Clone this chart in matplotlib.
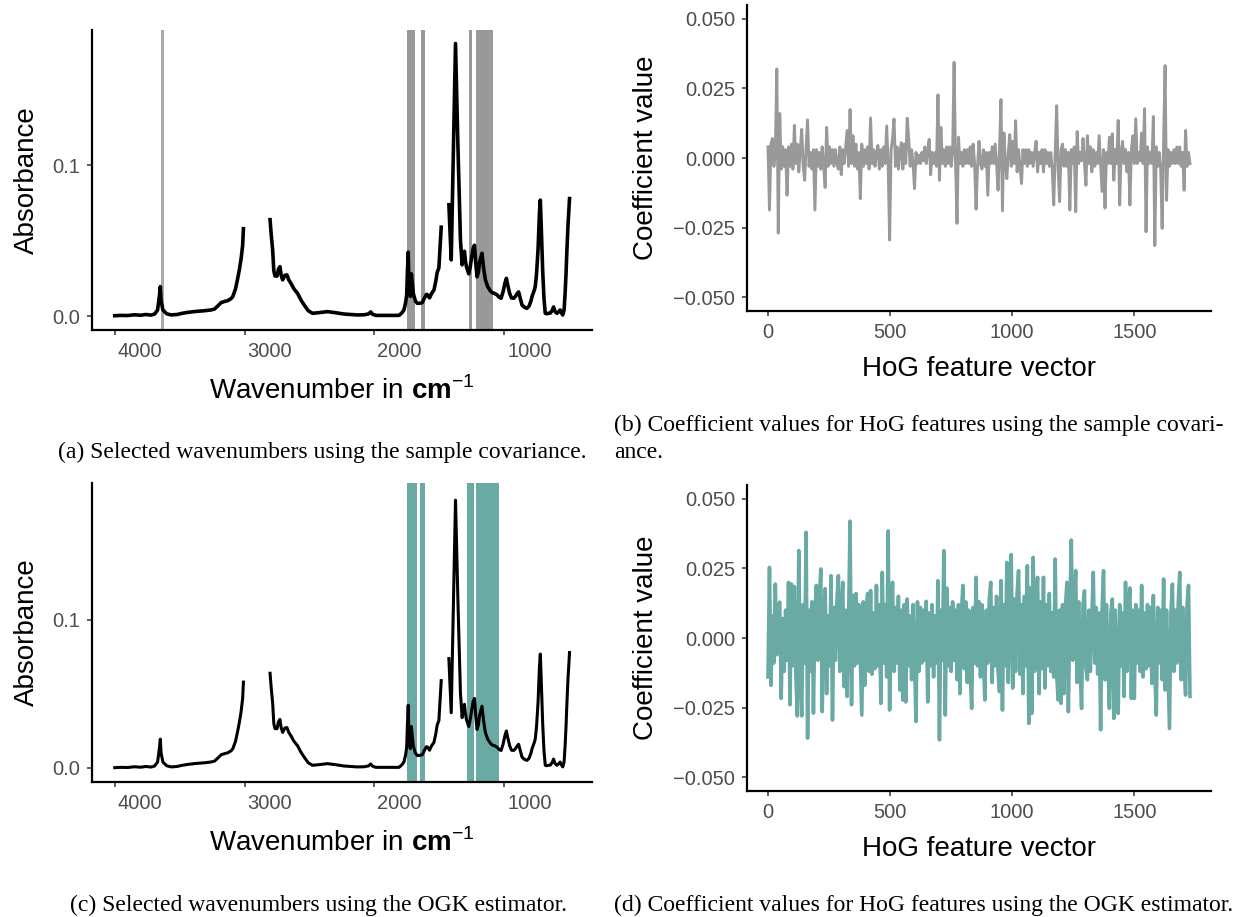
import numpy as np
import matplotlib
matplotlib.use('Agg')
import matplotlib.pyplot as plt
import matplotlib.transforms as mtransforms

plt.rcParams['font.family'] = ['Liberation Sans', 'DejaVu Sans']
plt.rcParams['mathtext.fontset'] = 'custom'
plt.rcParams['mathtext.rm'] = 'Liberation Sans'
plt.rcParams['mathtext.bf'] = 'Liberation Sans:bold'

# ---- IR spectrum (same spectrum in panels a and c), NaN = gap in the data
wavenumber = [4000, 3950, 3900, 3850, 3800, 3760, 3720, 3693, 3670, 3655, 3649, 3643, 3629,
              3600, 3565, 3520, 3480, 3437, 3380, 3309, 3260, 3232, 3200, 3181, 3150, 3130,
              3105, 3091, 3070, 3053, 3040, 3027, 3015, 3009, 2900,
              2804, 2795, 2784, 2775, 2766, 2750, 2740, 2728, 2718, 2707, 2690, 2674, 2660,
              2643, 2620, 2592, 2565, 2541, 2510, 2477, 2430, 2362, 2300, 2234, 2180, 2131,
              2080, 2045, 2029, 2015, 1990, 1900, 1811, 1790, 1773, 1760, 1752, 1746, 1740,
              1734, 1724, 1716, 1701, 1685, 1670, 1650, 1632, 1615, 1599, 1590, 1576, 1560,
              1542, 1528, 1517, 1504, 1486, 1450,
              1427, 1409, 1376, 1358, 1338, 1325, 1315, 1307, 1300, 1292, 1274, 1262, 1250,
              1240, 1230, 1220, 1210, 1200, 1190, 1172, 1160, 1146, 1128, 1110, 1094, 1075,
              1056, 1040, 1025, 1010, 995, 984, 975, 959, 945, 928, 915, 900, 890, 878, 864,
              845, 826, 810, 795, 787, 770, 762, 752, 740, 730, 723, 716, 705, 695, 685, 672,
              659, 645, 630, 621, 610, 595, 580, 570, 560, 550, 540, 532, 525, 519, 510, 498]
absorbance = [0.0002, 0.0004, 0.0003, 0.0008, 0.0005, 0.0010, 0.0006, 0.0013, 0.004, 0.014,
              0.0195, 0.010, 0.004, 0.0015, 0.0007, 0.0010, 0.0018, 0.0024, 0.0030, 0.0035,
              0.0040, 0.0046, 0.0072, 0.0089, 0.0098, 0.0102, 0.0115, 0.0129, 0.018, 0.025,
              0.031, 0.038, 0.047, 0.058, np.nan,
              0.064, 0.054, 0.044, 0.030, 0.0266, 0.0265, 0.031, 0.0328, 0.027, 0.024, 0.027,
              0.0273, 0.024, 0.0217, 0.018, 0.015, 0.0105, 0.0073, 0.0035, 0.0018, 0.0022,
              0.0029, 0.0022, 0.0013, 0.0010, 0.0007, 0.0008, 0.0014, 0.0027, 0.0012, 0.0004,
              0.0004, 0.0004, 0.0020, 0.004, 0.009, 0.014, 0.030, 0.0424, 0.0195, 0.013, 0.028,
              0.015, 0.010, 0.0084, 0.0085, 0.0089, 0.012, 0.0144, 0.014, 0.012, 0.015, 0.0173,
              0.023, 0.029, 0.032, 0.059, np.nan,
              0.0739, 0.0373, 0.181, 0.115, 0.0506, 0.034, 0.041, 0.043, 0.037, 0.0328, 0.028,
              0.033, 0.040, 0.045, 0.047, 0.035, 0.026, 0.029, 0.036, 0.0417, 0.032, 0.024,
              0.0195, 0.017, 0.0155, 0.015, 0.014, 0.0125, 0.0118, 0.016, 0.022, 0.025, 0.021,
              0.015, 0.012, 0.0118, 0.013, 0.015, 0.016, 0.012, 0.0073, 0.0058, 0.0051, 0.0065,
              0.010, 0.0129, 0.017, 0.0195, 0.028, 0.045, 0.068, 0.077, 0.060, 0.0306, 0.012,
              0.0018, 0.0015, 0.0018, 0.002, 0.004, 0.006, 0.003, 0.0018, 0.003, 0.004, 0.002,
              0.0007, 0.004, 0.015, 0.028, 0.042, 0.060, 0.078]

# selected wavenumber ranges (start, end) in cm^-1
selected_cov = [(3641, 3619), (1752, 1688), (1645, 1612), (1274, 1246), (1215, 1087)]
selected_ogk = [(1752, 1676), (1653, 1612), (1284, 1235), (1215, 1043)]

# ---- HoG coefficients, read every 6th feature
hog_cov = [0.004, -0.0187, 0.005, 0.007, -0.003, 0.002, 0.032, -0.027, 0.016, -0.004,
           0.004, -0.003, 0.003, -0.0134, 0.004, -0.003, 0.005, -0.004, 0.0117, -0.002,
           0.005, -0.005, 0.003, 0.0103, -0.003, -0.008, 0.004, 0.0137, -0.003, 0.002,
           -0.004, 0.003, -0.0187, 0.003, -0.003, 0.002, -0.004, 0.004, -0.003, -0.0106,
           0.011, -0.003, 0.004, -0.002, 0.003, -0.003, 0.003, -0.002, -0.004, 0.004,
           -0.006, 0.003, -0.002, 0.004, 0.0099, -0.003, 0.0174, -0.002, 0.008, -0.003,
           0.005, -0.004, 0.002, -0.0146, 0.005, -0.003, 0.003, -0.002, 0.004, -0.004,
           0.0144, -0.002, 0.003, -0.003, 0.002, 0.0045, -0.004, 0.003, -0.003, 0.004,
           -0.002, 0.0115, -0.002, -0.0295, 0.003, 0.007, 0.014, -0.003, 0.004, -0.004,
           0.002, 0.0055, -0.004, 0.005, -0.002, 0.0143, 0.007, -0.003, 0.003, -0.002,
           -0.011, 0.002, -0.002, 0.001, -0.002, 0.002, -0.001, 0.004, -0.002, 0.003,
           0.0067, -0.006, 0.002, -0.002, 0.002, -0.003, 0.0227, -0.008, 0.011, -0.002,
           0.003, -0.003, 0.004, -0.002, 0.004, -0.003, 0.002, 0.0344, -0.002, -0.0235,
           0.0075, -0.002, 0.002, -0.003, 0.003, -0.002, 0.003, -0.002, 0.004, -0.003,
           0.005, -0.002, -0.0184, -0.003, 0.006, -0.002, -0.004, 0.003, -0.003, 0.002,
           -0.0134, 0.002, -0.002, 0.004, -0.002, 0.005, -0.002, -0.0116, 0.003, 0.021,
           -0.019, 0.009, -0.002, -0.0074, 0.002, 0.0084, -0.003, 0.006, -0.002, 0.0134,
           -0.005, 0.003, -0.003, -0.0092, 0.003, -0.002, 0.003, -0.003, 0.003, -0.002,
           0.002, -0.003, 0.002, 0.006, -0.005, 0.002, -0.002, 0.003, -0.005, 0.003,
           -0.002, 0.002, -0.003, 0.002, -0.004, -0.0169, 0.002, 0.0188, -0.004, -0.0157,
           0.003, 0.005, -0.003, 0.003, -0.003, 0.002, -0.0187, 0.003, -0.002, 0.004,
           -0.0193, 0.0095, -0.002, 0.002, -0.001, 0.007, -0.002, -0.0098, 0.008, -0.002,
           0.004, -0.005, 0.003, -0.003, 0.002, -0.002, 0.008, -0.002, -0.012, 0.003,
           -0.018, 0.002, -0.002, 0.0075, -0.002, 0.0087, -0.008, 0.003, -0.002, 0.0135,
           -0.0169, 0.002, 0.006, -0.002, 0.003, -0.005, 0.002, -0.0169, 0.003, 0.008,
           -0.002, 0.0141, -0.002, 0.002, -0.001, 0.009, -0.002, 0.0177, -0.0265, 0.004,
           -0.002, 0.002, -0.002, 0.0149, -0.0315, 0.004, -0.003, 0.002, -0.004, -0.0253,
           0.006, 0.0332, -0.0152, 0.003, -0.003, 0.002, -0.002, 0.003, -0.002, 0.004,
           -0.002, 0.004, -0.003, 0.002, -0.0116, 0.0099, -0.003, 0.002, -0.002]

hog_ogk = [-0.014, 0.0254, -0.017, 0.008, -0.009, 0.0194, -0.006, 0.011, 0.0129, -0.0217,
           0.007, -0.012, 0.010, -0.008, 0.020, -0.024, 0.0194, -0.010, 0.0185, -0.013,
           -0.028, 0.0314, -0.011, -0.028, 0.012, -0.009, 0.038, -0.036, 0.010, -0.012,
           0.013, -0.027, 0.009, 0.0189, -0.008, 0.012, 0.0248, -0.0265, 0.006, 0.0177,
           -0.020, 0.008, -0.010, 0.0224, -0.0295, 0.011, -0.008, 0.013, 0.0224, -0.012,
           0.009, 0.020, -0.0175, 0.010, -0.021, 0.007, 0.042, -0.024, 0.0153, -0.010,
           0.016, -0.009, 0.012, -0.008, -0.0277, 0.013, -0.017, 0.010, 0.016, -0.012,
           0.017, -0.013, 0.009, -0.011, 0.0189, -0.010, 0.012, -0.0235, 0.0236, -0.009,
           0.012, -0.014, 0.0385, -0.0259, 0.008, 0.020, -0.012, 0.011, -0.009, 0.015,
           -0.0187, 0.010, -0.0223, 0.012, -0.023, 0.014, -0.010, 0.008, -0.015, 0.012,
           -0.008, -0.030, 0.013, -0.012, 0.011, -0.009, 0.010, -0.008, 0.0132, -0.023,
           0.009, -0.010, 0.012, -0.014, 0.008, -0.009, 0.0206, -0.0366, 0.010, -0.008,
           0.0314, -0.0277, 0.018, -0.010, 0.011, -0.012, 0.013, -0.008, 0.010, -0.015,
           0.012, -0.020, 0.009, 0.0189, -0.011, 0.013, -0.016, 0.010, -0.012, -0.0253,
           0.011, -0.009, 0.0218, -0.010, 0.013, -0.014, 0.012, -0.008, -0.0223, 0.010,
           -0.009, 0.014, 0.020, -0.016, 0.011, -0.010, 0.015, -0.012, -0.0193, 0.0206,
           -0.0259, 0.012, -0.010, 0.0272, -0.016, 0.013, 0.030, -0.018, 0.014, -0.012,
           0.016, 0.0242, -0.013, 0.012, -0.020, 0.015, -0.010, 0.026, -0.0307, 0.018,
           -0.0271, 0.029, -0.012, 0.016, 0.0218, -0.020, 0.013, -0.011, 0.0218, -0.018,
           0.012, -0.010, 0.016, -0.012, 0.009, -0.014, 0.0284, -0.013, -0.0223, 0.010,
           -0.0235, 0.012, -0.020, 0.011, 0.020, -0.0265, 0.010, 0.0352, -0.008, 0.012,
           0.0242, -0.016, 0.013, -0.010, -0.0253, 0.012, 0.017, -0.011, -0.015, 0.010,
           -0.012, 0.008, 0.0236, -0.009, 0.011, -0.013, 0.009, -0.033, 0.010, 0.0242,
           -0.015, 0.012, -0.010, -0.0253, 0.009, 0.014, -0.0289, 0.010, -0.012, -0.0271,
           0.012, -0.010, 0.009, -0.021, 0.020, -0.012, 0.011, 0.018, -0.0217, 0.010,
           -0.0217, 0.012, -0.009, 0.010, -0.012, 0.0189, -0.014, 0.009, -0.011, 0.012,
           -0.010, 0.011, -0.0163, 0.0153, -0.012, -0.0277, 0.011, -0.009, 0.010, -0.015,
           0.0212, -0.0187, 0.010, -0.011, -0.0325, 0.009, 0.0194, -0.012, 0.010, -0.009,
           0.013, 0.0236, -0.015, 0.011, -0.010, -0.0205, 0.012, 0.0189, -0.021]

wn_ticks = [4000, 3000, 2000, 1000]
abs_ticks = [0.0, 0.1]
abs_labels = ['0.0', '0.1']
hog_ticks = [0, 500, 1000, 1500]
coef_ticks = [-0.05, -0.025, 0.0, 0.025, 0.05]
coef_labels = ['\u22120.050', '\u22120.025', '0.000', '0.025', '0.050']

captions = ['(a) Selected wavenumbers using the sample covariance.',
            '(b) Coefficient values for HoG features using the sample covari-',
            'ance.',
            '(c) Selected wavenumbers using the OGK estimator.',
            '(d) Coefficient values for HoG features using the OGK estimator.']

GREY = '#999999'
TEAL = '#6aaaa4'

W, H = 1246, 917
fig = plt.figure(figsize=(W / 100, H / 100), dpi=100)


def add_ax(l, t, r, b):
    return fig.add_axes([l / W, 1 - b / H, (r - l) / W, (b - t) / H])


def style(ax):
    for s in ['top', 'right']:
        ax.spines[s].set_visible(False)
    for s in ['left', 'bottom']:
        ax.spines[s].set_linewidth(1.6)
    ax.tick_params(length=3.5, width=1.1, color='#333333', labelcolor='#4d4d4d',
                   labelsize=14.5, pad=5)


def spectrum_panel(ax, spans, col, lw, ylim):
    for a, b in spans:
        c = '#aaaaaa' if (col == GREY and a - b < 25) else col
        ax.axvspan(b, a, color=c, lw=0, zorder=1)
    ax.plot(wavenumber, absorbance, color='black', lw=lw, zorder=3)
    ax.set_xlim(4175, 325)
    ax.set_ylim(*ylim)
    ax.set_xticks(wn_ticks)
    ax.set_yticks(abs_ticks)
    ax.set_yticklabels(abs_labels)
    style(ax)
    # tick labels sit to the right of their ticks in the reference
    shift = mtransforms.ScaledTranslation(3 / 100, 0, fig.dpi_scale_trans)
    for lab in ax.get_xticklabels():
        lab.set_horizontalalignment('left')
        lab.set_transform(lab.get_transform() + shift)
    ax.set_ylabel('Absorbance', fontsize=20, labelpad=9)
    ax.set_xlabel(r'Wavenumber in $\mathbf{cm}^{-1}$', fontsize=20, labelpad=11)


def hog_panel(ax, vals, col, lw):
    idx = np.linspace(1, 1728, len(vals))
    ax.plot(idx, vals, color=col, lw=lw)
    ax.set_xlim(-85, 1814)
    ax.set_ylim(-0.055, 0.055)
    ax.set_xticks(hog_ticks)
    ax.set_yticks(coef_ticks)
    ax.set_yticklabels(coef_labels)
    style(ax)
    ax.set_ylabel('Coefficient value', fontsize=20, labelpad=10)
    ax.set_xlabel('HoG feature vector', fontsize=20, labelpad=10)


ax_a = add_ax(92, 30, 592, 330)
spectrum_panel(ax_a, selected_cov, GREY, 2.6, (-0.0093, 0.190))
ax_b = add_ax(747, 5, 1211, 311)
hog_panel(ax_b, hog_cov, GREY, 2.1)
ax_c = add_ax(92, 483, 592, 782)
spectrum_panel(ax_c, selected_ogk, TEAL, 2.2, (-0.0095, 0.1926))
ax_d = add_ax(747, 485, 1211, 791)
hog_panel(ax_d, hog_ogk, TEAL, 2.6)

cap = dict(family=['Liberation Serif', 'DejaVu Serif'], fontsize=17.0, va='center')
fig.text(322 / W, 1 - 452 / H, captions[0], ha='center', **cap)
fig.text(614 / W, 1 - 425 / H, captions[1], ha='left', **cap)
fig.text(614 / W, 1 - 452 / H, captions[2], ha='left', **cap)
fig.text(318 / W, 1 - 905 / H, captions[3], ha='center', **cap)
fig.text(614 / W, 1 - 905 / H, captions[4], ha='left', **cap)

fig.savefig('out.png', dpi=100)
